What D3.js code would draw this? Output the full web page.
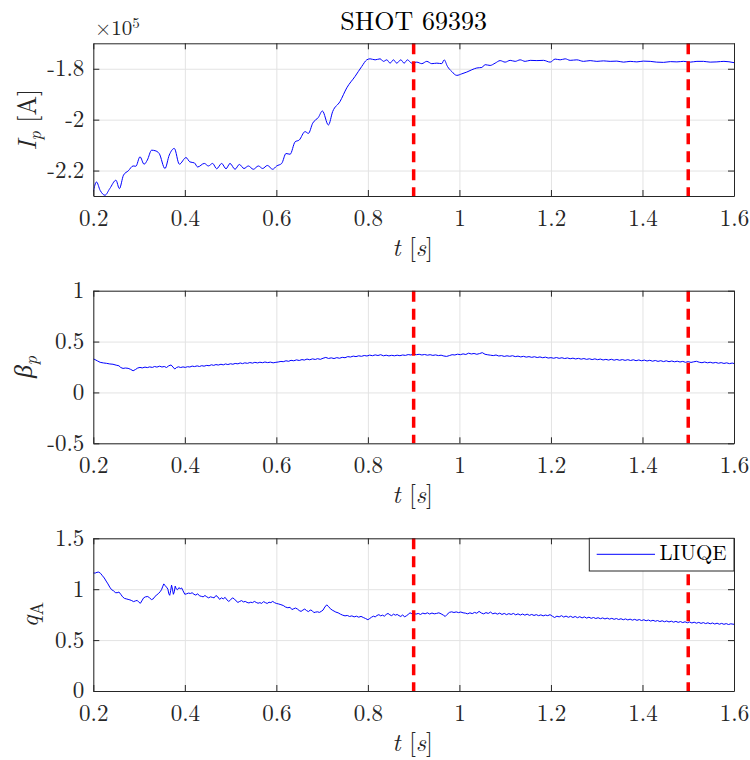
<!DOCTYPE html>
<html>
<head>
<meta charset="utf-8">
<script src="https://cdn.jsdelivr.net/npm/d3@7"></script>
<style>
  html, body { margin: 0; padding: 0; background: #fff; }
  svg { display: block; font-family: "Latin Modern Roman", "Liberation Serif", serif; }
</style>
</head>
<body>
<svg id="fig" width="750" height="760"></svg>
<script>
// ---- Shot data (time in s) ----
const shotTitle = "SHOT 69393";
const markerTimes = [0.9, 1.5];
const xTicks = [0.2, 0.4, 0.6, 0.8, 1.0, 1.2, 1.4, 1.6];
const xTickLabels = ["0.2", "0.4", "0.6", "0.8", "1", "1.2", "1.4", "1.6"];

// Plasma current, in units of 1e5 A
const ipTicks = [-2.2, -2.0, -1.8];
const ipTickLabels = ["-2.2", "-2", "-1.8"];
const ipSamples = [
  [0.200,-2.284],[0.207,-2.245],[0.215,-2.278],[0.2255,-2.297],[0.236,-2.271],[0.2495,-2.238],
  [0.257,-2.271],[0.266,-2.218],[0.2765,-2.201],[0.287,-2.182],[0.293,-2.183],[0.302,-2.146],
  [0.311,-2.175],[0.318,-2.159],[0.3275,-2.120],[0.335,-2.122],[0.344,-2.133],[0.3566,-2.192],
  [0.366,-2.139],[0.377,-2.113],[0.388,-2.175],[0.4026,-2.149],[0.411,-2.166],[0.421,-2.170],
  [0.428,-2.186],[0.4426,-2.172],[0.4514,-2.182],[0.4608,-2.172],[0.4696,-2.193],[0.4805,-2.172],
  [0.490,-2.193],[0.4987,-2.172],[0.5097,-2.195],[0.5191,-2.176],[0.5293,-2.192],[0.5388,-2.182],
  [0.5497,-2.195],[0.5607,-2.182],[0.5701,-2.192],[0.5803,-2.180],[0.592,-2.195],[0.6007,-2.182],
  [0.6117,-2.172],[0.6211,-2.133],[0.630,-2.136],[0.641,-2.087],[0.650,-2.080],[0.6627,-2.047],
  [0.670,-2.054],[0.6794,-2.014],[0.6918,-1.991],[0.7006,-1.966],[0.7137,-2.021],[0.7231,-1.968],
  [0.739,-1.929],[0.7539,-1.875],[0.772,-1.830],[0.7866,-1.791],[0.7976,-1.765],[0.8048,-1.761],
  [0.8158,-1.765],[0.8267,-1.761],[0.834,-1.771],[0.8413,-1.765],[0.8485,-1.778],[0.8558,-1.765],
  [0.8631,-1.778],[0.8719,-1.765],[0.8792,-1.778],[0.8864,-1.765],[0.8959,-1.778],[0.9068,-1.774],
  [0.9178,-1.780],[0.9287,-1.771],[0.9396,-1.780],[0.9506,-1.778],[0.9615,-1.780],[0.9666,-1.765],
  [0.9739,-1.791],[0.9833,-1.811],[0.9943,-1.826],[1.0052,-1.820],[1.0161,-1.813],[1.0271,-1.804],
  [1.038,-1.797],[1.049,-1.795],[1.0562,-1.784],[1.0671,-1.787],[1.0781,-1.778],[1.089,-1.768],
  [1.0999,-1.774],[1.1109,-1.767],[1.1218,-1.771],[1.1327,-1.765],[1.1436,-1.771],[1.1546,-1.767],
  [1.1692,-1.768],[1.1837,-1.767],[1.1983,-1.774],[1.2092,-1.762],[1.2201,-1.765],[1.2311,-1.761],
  [1.242,-1.767],[1.2566,-1.765],[1.2711,-1.771],[1.2857,-1.768],[1.3003,-1.771],[1.3149,-1.769],
  [1.3294,-1.771],[1.344,-1.770],[1.3586,-1.774],[1.373,-1.771],[1.3877,-1.773],[1.402,-1.770],
  [1.4169,-1.771],[1.431,-1.774],[1.446,-1.775],[1.461,-1.772],[1.4752,-1.773],[1.490,-1.771],
  [1.5043,-1.774],[1.519,-1.771],[1.5334,-1.771],[1.548,-1.774],[1.5626,-1.773],[1.578,-1.771],
  [1.600,-1.776]
];

// Poloidal beta
const betaTicks = [-0.5, 0, 0.5, 1];
const betaTickLabels = ["-0.5", "0", "0.5", "1"];
const betaSamples = [
  [0.200,0.330],[0.204,0.322],[0.209,0.310],[0.215,0.296],[0.222,0.290],[0.229,0.286],[0.236,0.280],
  [0.243,0.277],[0.250,0.268],[0.256,0.262],[0.260,0.245],[0.265,0.236],[0.270,0.240],[0.276,0.237],
  [0.281,0.228],[0.287,0.213],[0.292,0.225],[0.297,0.240],[0.302,0.246],[0.307,0.241],[0.313,0.249],
  [0.318,0.244],[0.323,0.251],[0.329,0.246],[0.334,0.255],[0.339,0.249],[0.345,0.258],[0.350,0.250],
  [0.355,0.255],[0.360,0.245],[0.365,0.262],[0.370,0.270],[0.374,0.250],[0.378,0.230],[0.382,0.245],
  [0.386,0.252],[0.391,0.245],[0.396,0.251],[0.401,0.246],[0.406,0.253],[0.411,0.250],[0.416,0.259],
  [0.421,0.254],[0.427,0.261],[0.432,0.255],[0.437,0.263],[0.442,0.258],[0.448,0.266],[0.453,0.262],
  [0.458,0.272],[0.463,0.266],[0.468,0.274],[0.473,0.269],[0.479,0.277],[0.484,0.271],[0.489,0.280],
  [0.494,0.274],[0.500,0.282],[0.505,0.277],[0.510,0.285],[0.516,0.281],[0.521,0.290],[0.526,0.283],
  [0.531,0.291],[0.537,0.286],[0.542,0.294],[0.548,0.288],[0.553,0.296],[0.559,0.290],[0.564,0.297],
  [0.570,0.292],[0.575,0.299],[0.581,0.293],[0.587,0.298],[0.593,0.291],[0.599,0.296],[0.604,0.299],
  [0.610,0.305],[0.615,0.302],[0.621,0.311],[0.627,0.306],[0.632,0.316],[0.638,0.311],[0.644,0.320],
  [0.650,0.314],[0.656,0.323],[0.661,0.318],[0.667,0.328],[0.673,0.321],[0.679,0.330],[0.685,0.324],
  [0.690,0.332],[0.696,0.325],[0.702,0.336],[0.708,0.344],[0.714,0.334],[0.720,0.340],[0.726,0.333],
  [0.732,0.342],[0.738,0.336],[0.744,0.345],[0.750,0.341],[0.756,0.352],[0.762,0.348],[0.768,0.357],
  [0.774,0.352],[0.780,0.360],[0.786,0.355],[0.792,0.363],[0.798,0.358],[0.804,0.367],[0.810,0.361],
  [0.816,0.369],[0.822,0.363],[0.828,0.371],[0.834,0.360],[0.840,0.366],[0.846,0.359],[0.852,0.365],
  [0.858,0.360],[0.864,0.366],[0.870,0.361],[0.876,0.368],[0.882,0.364],[0.888,0.372],[0.894,0.368],
  [0.900,0.378],[0.906,0.371],[0.912,0.375],[0.918,0.368],[0.924,0.373],[0.930,0.366],[0.936,0.371],
  [0.942,0.364],[0.948,0.369],[0.954,0.362],[0.960,0.366],[0.966,0.358],[0.972,0.354],[0.978,0.362],
  [0.984,0.371],[0.990,0.368],[0.996,0.376],[1.002,0.371],[1.008,0.379],[1.014,0.373],[1.020,0.386],
  [1.026,0.378],[1.032,0.383],[1.038,0.375],[1.044,0.382],[1.050,0.391],[1.056,0.375],[1.062,0.370],
  [1.068,0.366],[1.074,0.362],[1.080,0.368],[1.086,0.358],[1.092,0.362],[1.098,0.354],[1.104,0.360],
  [1.110,0.355],[1.116,0.361],[1.122,0.352],[1.128,0.357],[1.134,0.349],[1.140,0.355],[1.146,0.347],
  [1.152,0.352],[1.158,0.345],[1.164,0.351],[1.170,0.343],[1.176,0.349],[1.182,0.341],[1.188,0.347],
  [1.194,0.338],[1.200,0.342],[1.206,0.336],[1.212,0.343],[1.218,0.335],[1.224,0.341],[1.230,0.333],
  [1.236,0.339],[1.242,0.331],[1.248,0.337],[1.254,0.329],[1.260,0.335],[1.266,0.327],[1.272,0.333],
  [1.278,0.325],[1.284,0.331],[1.290,0.323],[1.296,0.330],[1.302,0.322],[1.308,0.328],[1.314,0.319],
  [1.320,0.325],[1.326,0.318],[1.332,0.326],[1.338,0.317],[1.344,0.324],[1.350,0.316],[1.356,0.323],
  [1.362,0.315],[1.368,0.322],[1.374,0.314],[1.380,0.321],[1.386,0.312],[1.392,0.319],[1.398,0.311],
  [1.404,0.318],[1.410,0.309],[1.416,0.316],[1.422,0.307],[1.428,0.314],[1.434,0.305],[1.440,0.312],
  [1.446,0.303],[1.452,0.311],[1.458,0.302],[1.464,0.309],[1.470,0.301],[1.476,0.307],[1.482,0.299],
  [1.488,0.305],[1.494,0.296],[1.500,0.303],[1.506,0.295],[1.512,0.301],[1.518,0.306],[1.524,0.297],
  [1.530,0.292],[1.536,0.299],[1.542,0.291],[1.548,0.297],[1.554,0.289],[1.560,0.295],[1.566,0.287],
  [1.572,0.293],[1.578,0.285],[1.584,0.291],[1.590,0.283],[1.596,0.289],[1.600,0.284]
];

// Safety factor on axis (LIUQE reconstruction)
const qTicks = [0, 0.5, 1, 1.5];
const qTickLabels = ["0", "0.5", "1", "1.5"];
const qSeriesName = "LIUQE";
const qSamples = [
  [0.200,1.160],[0.204,1.158],[0.208,1.166],[0.212,1.168],[0.216,1.155],[0.220,1.132],[0.224,1.110],
  [0.228,1.080],[0.232,1.052],[0.236,1.020],[0.240,0.995],[0.244,0.985],[0.248,0.967],[0.252,0.965],
  [0.256,0.972],[0.260,0.950],[0.264,0.925],[0.268,0.910],[0.272,0.905],[0.276,0.900],[0.280,0.895],
  [0.284,0.888],[0.288,0.878],[0.292,0.885],[0.296,0.890],[0.300,0.870],[0.303,0.862],[0.306,0.885],
  [0.310,0.915],[0.314,0.925],[0.319,0.928],[0.323,0.915],[0.327,0.898],[0.331,0.905],[0.335,0.930],
  [0.339,0.945],[0.343,0.960],[0.346,0.975],[0.349,0.995],[0.352,1.030],[0.354,1.052],[0.357,1.035],
  [0.360,1.020],[0.363,1.000],[0.365,0.955],[0.367,0.940],[0.369,0.985],[0.371,1.040],[0.373,1.000],
  [0.375,0.950],[0.377,0.975],[0.379,1.030],[0.381,1.005],[0.384,0.995],[0.387,1.015],[0.390,1.005],
  [0.393,1.012],[0.396,0.985],[0.400,0.950],[0.404,0.955],[0.408,0.962],[0.412,0.958],[0.416,0.965],
  [0.420,0.950],[0.424,0.942],[0.428,0.955],[0.432,0.935],[0.436,0.930],[0.440,0.925],[0.444,0.938],
  [0.448,0.925],[0.452,0.915],[0.456,0.925],[0.460,0.920],[0.464,0.915],[0.468,0.938],[0.472,0.925],
  [0.476,0.900],[0.480,0.915],[0.484,0.905],[0.488,0.920],[0.492,0.895],[0.496,0.880],[0.500,0.895],
  [0.504,0.915],[0.508,0.905],[0.512,0.885],[0.516,0.870],[0.520,0.880],[0.524,0.888],[0.528,0.875],
  [0.532,0.880],[0.536,0.870],[0.540,0.865],[0.544,0.872],[0.548,0.868],[0.552,0.880],[0.556,0.870],
  [0.560,0.862],[0.564,0.868],[0.568,0.860],[0.572,0.878],[0.576,0.868],[0.580,0.860],[0.584,0.872],
  [0.588,0.868],[0.592,0.880],[0.596,0.868],[0.600,0.860],[0.605,0.855],[0.610,0.848],[0.615,0.840],
  [0.620,0.825],[0.625,0.818],[0.630,0.822],[0.634,0.800],[0.638,0.808],[0.642,0.815],[0.646,0.805],
  [0.650,0.790],[0.654,0.782],[0.658,0.795],[0.662,0.805],[0.666,0.790],[0.670,0.780],[0.674,0.795],
  [0.678,0.790],[0.682,0.770],[0.686,0.775],[0.690,0.778],[0.694,0.772],[0.698,0.782],[0.702,0.795],
  [0.706,0.825],[0.710,0.846],[0.714,0.830],[0.718,0.808],[0.722,0.795],[0.726,0.785],[0.730,0.775],
  [0.735,0.768],[0.740,0.755],[0.745,0.745],[0.750,0.738],[0.755,0.742],[0.760,0.732],[0.765,0.738],
  [0.770,0.728],[0.775,0.735],[0.780,0.725],[0.785,0.733],[0.790,0.722],[0.795,0.712],[0.800,0.700],
  [0.804,0.712],[0.808,0.725],[0.812,0.735],[0.816,0.728],[0.820,0.742],[0.824,0.750],[0.828,0.738],
  [0.832,0.745],[0.836,0.735],[0.840,0.752],[0.844,0.762],[0.848,0.748],[0.852,0.740],[0.856,0.755],
  [0.860,0.745],[0.864,0.752],[0.868,0.740],[0.872,0.732],[0.876,0.748],[0.880,0.728],[0.884,0.738],
  [0.888,0.752],[0.892,0.768],[0.896,0.760],[0.900,0.765],[0.905,0.755],[0.910,0.762],[0.915,0.752],
  [0.920,0.765],[0.925,0.758],[0.930,0.768],[0.935,0.756],[0.940,0.766],[0.945,0.758],[0.950,0.762],
  [0.955,0.768],[0.960,0.758],[0.965,0.745],[0.969,0.732],[0.973,0.752],[0.978,0.772],[0.983,0.778],
  [0.988,0.771],[0.993,0.777],[0.998,0.770],[1.003,0.776],[1.008,0.768],[1.013,0.765],[1.018,0.758],
  [1.023,0.768],[1.028,0.760],[1.033,0.772],[1.038,0.764],[1.043,0.782],[1.048,0.766],[1.053,0.758],
  [1.058,0.770],[1.063,0.762],[1.068,0.775],[1.073,0.758],[1.078,0.766],[1.083,0.755],[1.088,0.765],
  [1.093,0.752],[1.098,0.762],[1.103,0.750],[1.108,0.760],[1.113,0.752],[1.118,0.762],[1.123,0.748],
  [1.128,0.758],[1.133,0.746],[1.138,0.756],[1.143,0.745],[1.148,0.755],[1.153,0.743],[1.158,0.752],
  [1.163,0.742],[1.168,0.750],[1.173,0.740],[1.178,0.748],[1.183,0.738],[1.188,0.746],[1.193,0.740],
  [1.198,0.750],[1.203,0.735],[1.208,0.722],[1.213,0.735],[1.218,0.728],[1.223,0.740],[1.228,0.726],
  [1.233,0.736],[1.238,0.724],[1.243,0.734],[1.248,0.722],[1.253,0.732],[1.258,0.720],[1.263,0.730],
  [1.268,0.718],[1.273,0.728],[1.278,0.716],[1.283,0.725],[1.288,0.714],[1.293,0.722],[1.298,0.712],
  [1.303,0.720],[1.308,0.710],[1.313,0.718],[1.318,0.708],[1.323,0.716],[1.328,0.706],[1.333,0.714],
  [1.338,0.704],[1.343,0.712],[1.348,0.702],[1.353,0.710],[1.358,0.700],[1.363,0.708],[1.368,0.698],
  [1.373,0.706],[1.378,0.696],[1.383,0.704],[1.388,0.694],[1.393,0.702],[1.398,0.692],[1.403,0.700],
  [1.408,0.690],[1.413,0.697],[1.418,0.687],[1.423,0.695],[1.428,0.685],[1.433,0.692],[1.438,0.682],
  [1.443,0.690],[1.448,0.680],[1.453,0.688],[1.458,0.678],[1.463,0.686],[1.468,0.676],[1.473,0.684],
  [1.478,0.674],[1.483,0.682],[1.488,0.672],[1.493,0.680],[1.498,0.670],[1.503,0.678],[1.508,0.668],
  [1.513,0.676],[1.518,0.666],[1.523,0.674],[1.528,0.664],[1.533,0.672],[1.538,0.662],[1.543,0.670],
  [1.548,0.660],[1.553,0.668],[1.558,0.658],[1.563,0.666],[1.568,0.656],[1.573,0.664],[1.578,0.655],
  [1.583,0.662],[1.588,0.653],[1.593,0.660],[1.600,0.655]
];

// ---- Figure layout ----
const AX_LEFT = 93.3, AX_RIGHT = 734;
const INK = "#262626", GRID = "#e3e3e3";
const FONT = "'Latin Modern Roman', 'Liberation Serif', serif";
const TICK_FONT = 23, LABEL_FONT = 25;

const svg = d3.select("#fig");
const x = d3.scaleLinear().domain([0.2, 1.6]).range([AX_LEFT, AX_RIGHT]);

const panels = [
  { id: "ip", top: 43.3, bottom: 196, domain: [-2.3, -1.7], ticks: ipTicks, labels: ipTickLabels,
    data: ipSamples, curve: d3.curveMonotoneX },
  { id: "beta", top: 290.7, bottom: 443.3, domain: [-0.5, 1], ticks: betaTicks, labels: betaTickLabels,
    data: betaSamples, curve: d3.curveLinear },
  { id: "q", top: 538.3, bottom: 691, domain: [0, 1.5], ticks: qTicks, labels: qTickLabels,
    data: qSamples, curve: d3.curveLinear }
];

panels.forEach(p => {
  const y = d3.scaleLinear().domain(p.domain).range([p.bottom, p.top]);
  p.y = y;
  const h = p.bottom - p.top, w = AX_RIGHT - AX_LEFT;
  const g = svg.append("g").attr("class", "panel-" + p.id);

  svg.append("clipPath").attr("id", "clip-" + p.id)
    .append("rect").attr("x", AX_LEFT).attr("y", p.top).attr("width", w).attr("height", h);

  // grid
  g.append("g").attr("transform", `translate(0,${p.bottom})`)
    .call(d3.axisBottom(x).tickValues(xTicks).tickSize(-h).tickFormat(""))
    .call(s => s.select(".domain").remove())
    .call(s => s.selectAll("line").attr("stroke", GRID).attr("stroke-width", 1));
  g.append("g").attr("transform", `translate(${AX_LEFT},0)`)
    .call(d3.axisLeft(y).tickValues(p.ticks).tickSize(-w).tickFormat(""))
    .call(s => s.select(".domain").remove())
    .call(s => s.selectAll("line").attr("stroke", GRID).attr("stroke-width", 1));

  // signal
  const line = d3.line().x(d => x(d[0])).y(d => y(d[1])).curve(p.curve);
  g.append("path").datum(p.data)
    .attr("clip-path", `url(#clip-${p.id})`)
    .attr("fill", "none").attr("stroke", "#0000ff").attr("stroke-width", 1)
    .attr("stroke-linejoin", "round")
    .attr("d", line);

  // marker times
  g.selectAll("line.marker").data(markerTimes).join("line")
    .attr("class", "marker")
    .attr("x1", d => x(d)).attr("x2", d => x(d))
    .attr("y1", p.top).attr("y2", p.bottom)
    .attr("stroke", "#ff0000").attr("stroke-width", 3.5)
    .attr("stroke-dasharray", "11,7");

  // axes (box with inward ticks)
  const styleAxis = s => {
    s.attr("font-family", FONT);
    s.select(".domain").attr("stroke", INK).attr("stroke-width", 1);
    s.selectAll(".tick line").attr("stroke", INK).attr("stroke-width", 1);
    s.selectAll("text").attr("fill", INK).attr("font-size", TICK_FONT).attr("font-family", FONT);
  };
  const bottomAx = g.append("g").attr("transform", `translate(0,${p.bottom})`)
    .call(d3.axisBottom(x).tickValues(xTicks).tickSize(-6).tickSizeOuter(0)
      .tickFormat((d, i) => xTickLabels[i]))
    .call(styleAxis);
  bottomAx.selectAll("text").attr("dy", null).attr("y", 29.5);

  g.append("g").attr("transform", `translate(0,${p.top})`)
    .call(d3.axisTop(x).tickValues(xTicks).tickSize(-6).tickSizeOuter(0).tickFormat(""))
    .call(styleAxis);

  g.append("g").attr("transform", `translate(${AX_LEFT},0)`)
    .call(d3.axisLeft(y).tickValues(p.ticks).tickSize(-6).tickSizeOuter(0).tickPadding(9)
      .tickFormat((d, i) => p.labels[i]))
    .call(styleAxis)
    .call(s => s.selectAll("text").attr("dy", "0.3em"));

  g.append("g").attr("transform", `translate(${AX_RIGHT},0)`)
    .call(d3.axisRight(y).tickValues(p.ticks).tickSize(-6).tickSizeOuter(0).tickFormat(""))
    .call(styleAxis);

  // x label: t [s]
  const xl = g.append("text")
    .attr("x", (AX_LEFT + AX_RIGHT) / 2 - 1).attr("y", p.bottom + 59.5)
    .attr("text-anchor", "middle").attr("fill", INK).attr("font-size", LABEL_FONT);
  xl.append("tspan").attr("font-style", "italic").text("t");
  xl.append("tspan").text(" [");
  xl.append("tspan").attr("font-style", "italic").text("s");
  xl.append("tspan").text("]");
});

// y labels
const ymid = p => (p.top + p.bottom) / 2;
{
  const p = panels[0];
  const t = svg.append("text").attr("transform", `translate(36,${ymid(p)}) rotate(-90)`)
    .attr("text-anchor", "middle").attr("fill", INK).attr("font-size", 26);
  t.append("tspan").attr("font-style", "italic").text("I");
  t.append("tspan").attr("font-style", "italic").attr("font-size", 18).attr("dy", 5).text("p");
  t.append("tspan").attr("dy", -5).text(" [A]");
}
{
  const p = panels[1];
  const t = svg.append("text").attr("transform", `translate(32,${ymid(p)}) rotate(-90)`)
    .attr("text-anchor", "middle").attr("fill", INK).attr("font-size", 26);
  t.append("tspan").attr("font-style", "italic").text("β");
  t.append("tspan").attr("font-style", "italic").attr("font-size", 18).attr("dy", 5).text("p");
}
{
  const p = panels[2];
  const t = svg.append("text").attr("transform", `translate(38,${ymid(p)}) rotate(-90)`)
    .attr("text-anchor", "middle").attr("fill", INK).attr("font-size", 26);
  t.append("tspan").attr("font-style", "italic").text("q");
  t.append("tspan").attr("font-size", 18).attr("dy", 5).text("A");
}

// exponent marker for the current axis
{
  const t = svg.append("text").attr("x", 95).attr("y", 34.5)
    .attr("fill", INK).attr("font-size", 21);
  t.append("tspan").text("×10");
  t.append("tspan").attr("font-size", 15).attr("dy", -7).text("5");
}

// title
svg.append("text").attr("x", (AX_LEFT + AX_RIGHT) / 2).attr("y", 29.5)
  .attr("text-anchor", "middle").attr("fill", "#000").attr("font-size", 26)
  .text(shotTitle);

// legend in the q panel
{
  const p = panels[2];
  const lg = svg.append("g").attr("class", "legend");
  lg.append("rect").attr("x", 589.3).attr("y", p.top).attr("width", AX_RIGHT - 589.3).attr("height", 32.7)
    .attr("fill", "#fff").attr("stroke", INK).attr("stroke-width", 1);
  lg.append("line").attr("x1", 596.7).attr("x2", 655).attr("y1", p.top + 16).attr("y2", p.top + 16)
    .attr("stroke", "#0000ff").attr("stroke-width", 1);
  lg.append("text").attr("x", 659.5).attr("y", p.top + 22).attr("fill", "#000")
    .attr("font-size", 21).text(qSeriesName);
}
</script>
</body>
</html>
